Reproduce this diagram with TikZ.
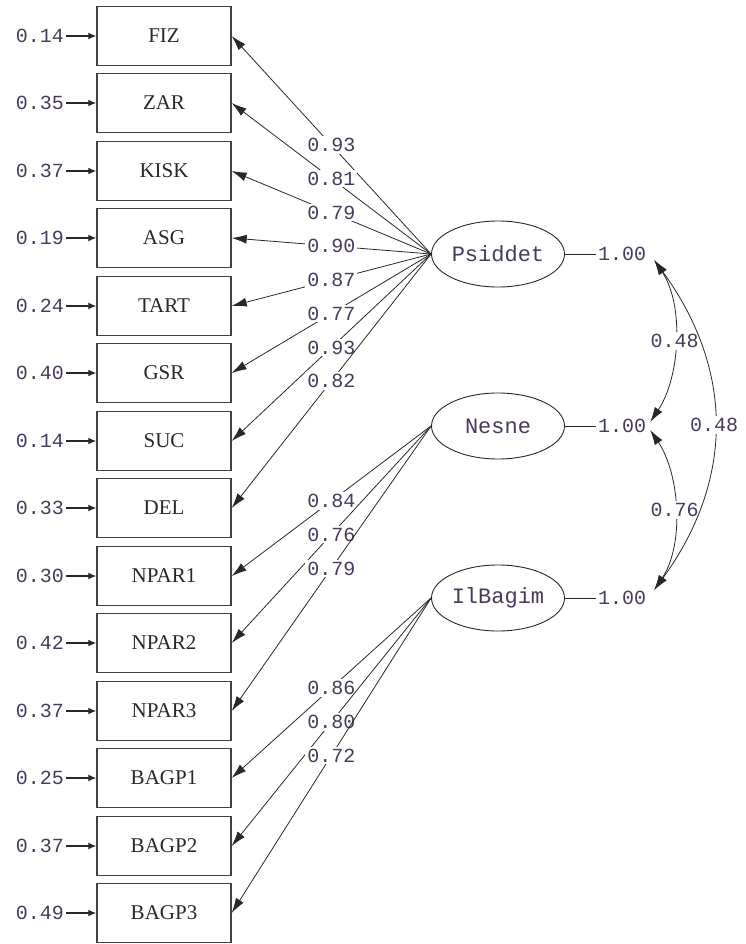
\documentclass[tikz,border=0pt]{standalone}
\usepackage{fontspec}
\setmainfont{Liberation Serif}
\setmonofont{Liberation Mono}
\usetikzlibrary{shapes.geometric,arrows.meta}
\definecolor{numcol}{RGB}{72,58,92}
\definecolor{inkcol}{RGB}{40,40,40}
\tikzset{
  obs/.style={draw=black!75, line width=1.4pt, minimum width=134pt, minimum height=59pt, inner sep=0pt, font=\fontsize{21}{23}\selectfont, text=inkcol},
  lat/.style={ellipse, draw=inkcol, line width=0.9pt, minimum width=133pt, minimum height=66pt, inner sep=0pt, font=\ttfamily\fontsize{22}{24}\selectfont, text=numcol},
  num/.style={font=\ttfamily\fontsize{20}{22}\selectfont, text=numcol, inner sep=2pt},
  numbg/.style={num, fill=white},
  load/.style={draw=inkcol, line width=0.8pt, -{Latex[length=15pt,width=9pt]}},
  err/.style={draw=inkcol, line width=1.3pt, -{Latex[length=8pt,width=7pt]}},
  cov/.style={draw=inkcol, line width=0.8pt, {Latex[length=15pt,width=9pt]}-{Latex[length=15pt,width=9pt]}}
}
\begin{document}
\begin{tikzpicture}[x=1pt,y=-1pt]
\useasboundingbox (0,0) rectangle (746,944);
% Observed variables
\node[obs] (fiz) at (164,36) {FIZ};
\node[obs] (zar) at (164,103) {ZAR};
\node[obs] (kisk) at (164,171) {KISK};
\node[obs] (asg) at (164,238) {ASG};
\node[obs] (tart) at (164,306) {TART};
\node[obs] (gsr) at (164,373) {GSR};
\node[obs] (suc) at (164,441) {SUC};
\node[obs] (del) at (164,508) {DEL};
\node[obs] (npar1) at (164,576) {NPAR1};
\node[obs] (npar2) at (164,643) {NPAR2};
\node[obs] (npar3) at (164,711) {NPAR3};
\node[obs] (bagp1) at (164,778) {BAGP1};
\node[obs] (bagp2) at (164,846) {BAGP2};
\node[obs] (bagp3) at (164,913) {BAGP3};
% Error variances
\node[num] (e1) at (40,36) {0.14};
\node[num] (e2) at (40,103) {0.35};
\node[num] (e3) at (40,171) {0.37};
\node[num] (e4) at (40,238) {0.19};
\node[num] (e5) at (40,306) {0.24};
\node[num] (e6) at (40,373) {0.40};
\node[num] (e7) at (40,441) {0.14};
\node[num] (e8) at (40,508) {0.33};
\node[num] (e9) at (40,576) {0.30};
\node[num] (e10) at (40,643) {0.42};
\node[num] (e11) at (40,711) {0.37};
\node[num] (e12) at (40,778) {0.25};
\node[num] (e13) at (40,846) {0.37};
\node[num] (e14) at (40,913) {0.49};
\draw[err] (e1) -- (fiz);
\draw[err] (e2) -- (zar);
\draw[err] (e3) -- (kisk);
\draw[err] (e4) -- (asg);
\draw[err] (e5) -- (tart);
\draw[err] (e6) -- (gsr);
\draw[err] (e7) -- (suc);
\draw[err] (e8) -- (del);
\draw[err] (e9) -- (npar1);
\draw[err] (e10) -- (npar2);
\draw[err] (e11) -- (npar3);
\draw[err] (e12) -- (bagp1);
\draw[err] (e13) -- (bagp2);
\draw[err] (e14) -- (bagp3);
% Latent variables
\node[lat] (psid) at (498,254) {Psiddet};
\node[lat] (nesne) at (498,426) {Nesne};
\node[lat] (ilbag) at (498,598) {IlBagim};
\node[num] (v1) at (622,254) {1.00};
\node[num] (v2) at (622,426) {1.00};
\node[num] (v3) at (622,598) {1.00};
\draw[draw=inkcol, line width=0.8pt] (psid) -- (v1);
\draw[draw=inkcol, line width=0.8pt] (nesne) -- (v2);
\draw[draw=inkcol, line width=0.8pt] (ilbag) -- (v3);
% Loadings of Psiddet
\draw[load] (psid.west) -- node[numbg] {0.93} (fiz.east);
\draw[load] (psid.west) -- node[numbg] {0.81} (zar.east);
\draw[load] (psid.west) -- node[numbg] {0.79} (kisk.east);
\draw[load] (psid.west) -- node[numbg] {0.90} (asg.east);
\draw[load] (psid.west) -- node[numbg] {0.87} (tart.east);
\draw[load] (psid.west) -- node[numbg] {0.77} (gsr.east);
\draw[load] (psid.west) -- node[numbg] {0.93} (suc.east);
\draw[load] (psid.west) -- node[numbg] {0.82} (del.east);
% Loadings of Nesne
\draw[load] (nesne.west) -- node[numbg] {0.84} (npar1.east);
\draw[load] (nesne.west) -- node[numbg] {0.76} (npar2.east);
\draw[load] (nesne.west) -- node[numbg] {0.79} (npar3.east);
% Loadings of IlBagim
\draw[load] (ilbag.west) -- node[numbg] {0.86} (bagp1.east);
\draw[load] (ilbag.west) -- node[numbg] {0.80} (bagp2.east);
\draw[load] (ilbag.west) -- node[numbg] {0.72} (bagp3.east);
% Correlations
\draw[cov] ([xshift=6pt,yshift=-6pt]v1.east) .. controls +(30,45) and +(30,-45) .. ([xshift=2pt,yshift=4pt]v2.east) node[numbg, midway] {0.48};
\draw[cov] ([xshift=2pt,yshift=-4pt]v2.east) .. controls +(30,45) and +(30,-45) .. ([xshift=6pt,yshift=8pt]v3.east) node[numbg, midway] {0.76};
\draw[cov] ([xshift=6pt,yshift=-6pt]v1.east) .. controls +(80,110) and +(80,-110) .. ([xshift=6pt,yshift=8pt]v3.east) node[numbg, midway] {0.48};
\end{tikzpicture}
\end{document}
